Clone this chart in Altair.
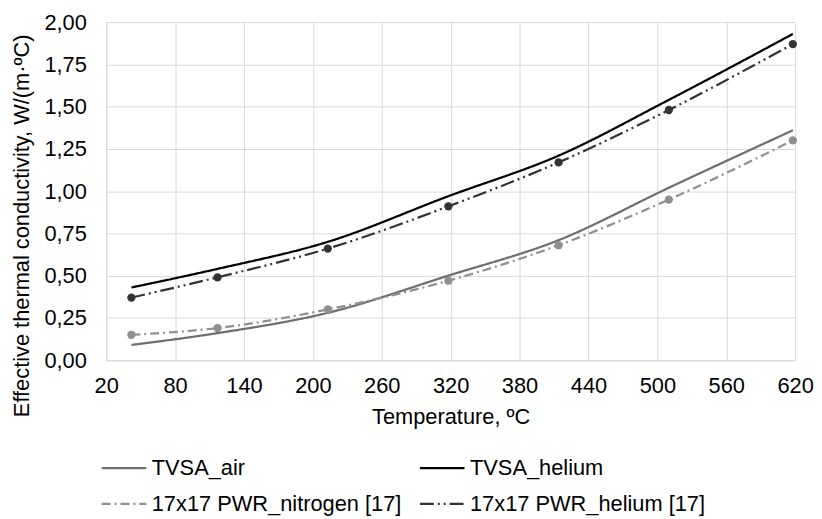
import altair as alt
import pandas as pd

series_names = ["TVSA_air", "TVSA_helium", "17x17 PWR_nitrogen [17]", "17x17 PWR_helium [17]"]
temps = [42, 117, 213, 318, 414, 510, 618]
tvsa_air = [0.09, 0.16, 0.28, 0.50, 0.71, 1.02, 1.36]
tvsa_helium = [0.43, 0.54, 0.70, 0.97, 1.21, 1.54, 1.93]
pwr_nitrogen = [0.15, 0.19, 0.30, 0.47, 0.68, 0.95, 1.30]
pwr_helium = [0.37, 0.49, 0.66, 0.91, 1.17, 1.48, 1.87]
x_ticks = [20, 80, 140, 200, 260, 320, 380, 440, 500, 560, 620]
y_ticks = [0, 0.25, 0.5, 0.75, 1.0, 1.25, 1.5, 1.75, 2.0]

colors = ["#6f6f6f", "#000000", "#909090", "#333333"]
dashes = [[1, 0], [1, 0], [9, 4, 2, 4], [14, 4, 2, 4, 2, 4]]

rows = []
for name, vals in zip(series_names, [tvsa_air, tvsa_helium, pwr_nitrogen, pwr_helium]):
    for t, v in zip(temps, vals):
        rows.append({"series": name, "T": t, "k": v})
df = pd.DataFrame(rows)

FONT = "Liberation Sans"
FS = 22
fmt = "replace(format(datum.value, '.2f'), '.', ',')"
axis_style = dict(labelFont=FONT, titleFont=FONT, labelFontSize=FS, titleFontSize=FS,
                  labelColor="#000", titleColor="#000", titleFontWeight="normal",
                  gridColor="#d9d9d9", domainColor="#d9d9d9", grid=True, ticks=False,
                  labelFlush=False)

x = alt.X("T:Q", scale=alt.Scale(domain=[20, 620], nice=False),
          axis=alt.Axis(values=x_ticks, title="Temperature, ºC",
                        labelPadding=16, titlePadding=10, **axis_style))
y = alt.Y("k:Q", scale=alt.Scale(domain=[0, 2], nice=False),
          axis=alt.Axis(values=y_ticks, title="Effective thermal conductivity, W/(m·ºC)",
                        labelExpr=fmt, labelPadding=20, titleX=-85, titleY=205,
                        titleAngle=270, titleAlign="center", titleBaseline="middle",
                        **axis_style))

color = alt.Color("series:N", scale=alt.Scale(domain=series_names, range=colors),
                  legend=alt.Legend(title=None, orient="none", legendX=-6, legendY=426,
                                    direction="horizontal",
                                    columns=2, symbolType="stroke", symbolSize=2025,
                                    symbolStrokeWidth=2.25, labelFontSize=FS,
                                    labelFont=FONT, labelColor="#000", columnPadding=14,
                                    rowPadding=1, labelOffset=4, labelLimit=400))
dash = alt.StrokeDash("series:N", scale=alt.Scale(domain=series_names, range=dashes),
                      legend=None)

lines = alt.Chart(df).mark_line(strokeWidth=2.25, interpolate="monotone").encode(
    x=x, y=y, color=color, strokeDash=dash, detail="series:N")

points = alt.Chart(df[df["series"].isin(series_names[2:])]).mark_circle(size=70, opacity=1).encode(
    x="T:Q", y="k:Q",
    color=alt.Color("series:N", scale=alt.Scale(domain=series_names, range=colors), legend=None))

chart = (lines + points).properties(
    width=695, height=341,
    autosize=alt.AutoSizeParams(type="none"),
    padding={"left": 99, "top": 12, "right": 19, "bottom": 158},
).configure_view(stroke=None)

chart.save("out.html", embed_options={"renderer": "svg", "actions": False})
